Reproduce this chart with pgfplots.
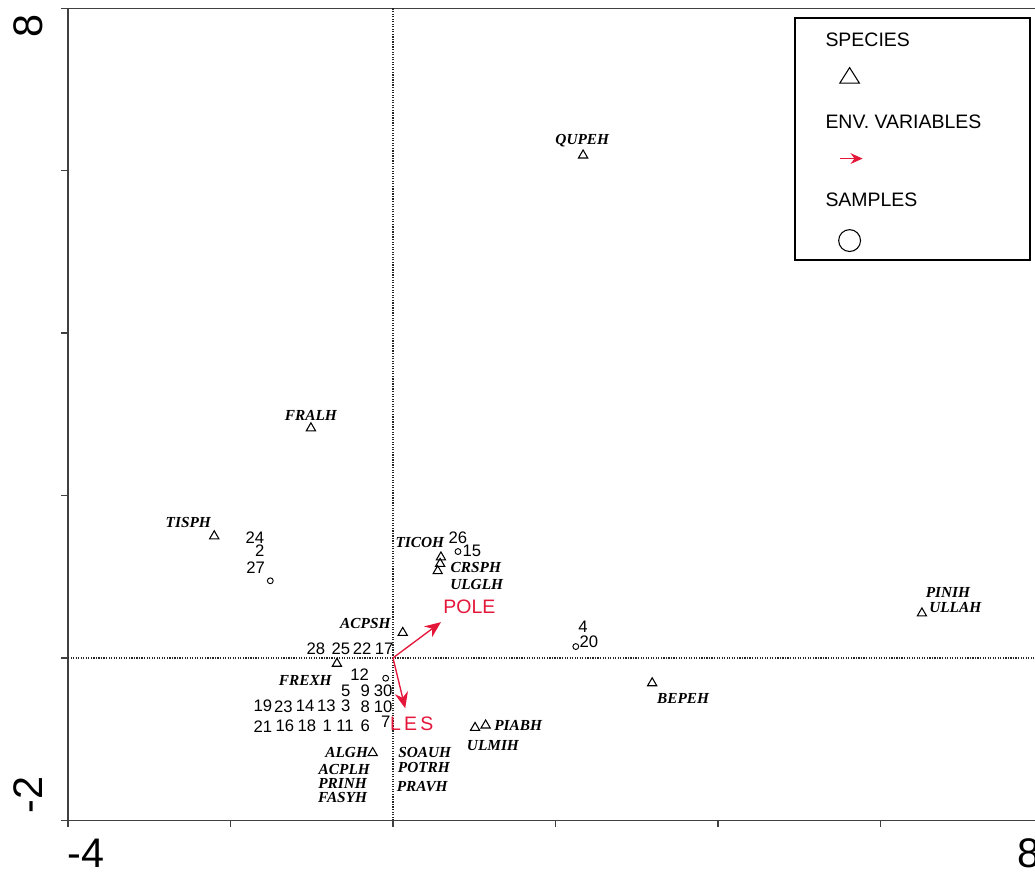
\documentclass[border=0pt]{standalone}
\usepackage{pgfplots}
\pgfplotsset{compat=1.18}
\usepackage{fontspec}
\setmainfont{Liberation Sans}
\newfontfamily\spfont{Liberation Serif}
\usetikzlibrary{arrows.meta}
\definecolor{envred}{RGB}{228,22,58}
\newcommand\spl{\spfont\fontsize{11.5}{12}\selectfont\bfseries\itshape}
\newcommand\nml{\fontsize{12.5}{13}\selectfont}
\newcommand\lgl{\fontsize{14.6}{15}\selectfont}
\newcommand\tkl{\fontsize{31}{31}\selectfont}
\begin{document}
\begin{tikzpicture}
\begin{axis}[scale only axis, width=731.25pt, height=609pt,
  xmin=-4, xmax=8, ymin=-2, ymax=8,
  xtick={-4,-2,...,8}, ytick={-2,0,...,8},
  xticklabels={}, yticklabels={},
  tick pos=left, tick align=outside, major tick length=5pt,
  axis line style={black!75, line width=1.2pt},
  tick style={black!75, line width=1pt},
  clip=false]
% reference lines
\draw[densely dotted, black!85, line width=0.9pt] (axis cs:0,-2) -- (axis cs:0,8);
\draw[densely dotted, black!85, line width=0.9pt] (axis cs:-4,0) -- (axis cs:8,0);
% species
\addplot[only marks, mark=triangle, mark size=4pt, mark options={black, line width=0.8pt}] coordinates {
(2.34,6.19) (-1.01,2.83) (-2.20,1.50) (0.59,1.24) (0.58,1.16) (0.55,1.07)
(0.12,0.31) (-0.69,-0.07) (3.19,-0.31) (6.51,0.55) (1.01,-0.86) (1.14,-0.83) (-0.25,-1.17)};
% samples
\addplot[only marks, mark=o, mark size=2.2pt, mark options={black, line width=0.7pt}] coordinates {
(-1.51,0.95) (0.80,1.31) (2.25,0.14) (-0.09,-0.25)};
% environmental arrows
\addplot[envred, line width=1pt, -{Stealth[length=12pt,width=10pt]}] coordinates {(0,0) (0.59,0.44)};
\addplot[envred, line width=1pt, -{Stealth[length=12pt,width=10pt]}] coordinates {(0,0) (0.15,-0.62)};
\node[font=\lgl, text=envred] at (axis cs:0.94,0.63) {POLE};
\node[font=\lgl, text=envred] at (axis cs:0.23,-0.81) {L\,E\,S};
% species labels
\node[font=\spl] at (axis cs:2.33,6.37) {QUPEH};
\node[font=\spl] at (axis cs:-1.01,2.99) {FRALH};
\node[font=\spl] at (axis cs:-2.52,1.67) {TISPH};
\node[font=\spl] at (axis cs:0.33,1.42) {TICOH};
\node[font=\spl] at (axis cs:1.02,1.11) {CRSPH};
\node[font=\spl] at (axis cs:1.03,0.91) {ULGLH};
\node[font=\spl] at (axis cs:-0.34,0.42) {ACPSH};
\node[font=\spl] at (axis cs:-1.08,-0.28) {FREXH};
\node[font=\spl] at (axis cs:3.57,-0.50) {BEPEH};
\node[font=\spl] at (axis cs:6.83,0.80) {PINIH};
\node[font=\spl] at (axis cs:6.92,0.62) {ULLAH};
\node[font=\spl] at (axis cs:1.54,-0.83) {PIABH};
\node[font=\spl] at (axis cs:1.23,-1.08) {ULMIH};
\node[font=\spl] at (axis cs:-0.57,-1.17) {ALGH};
\node[font=\spl] at (axis cs:-0.60,-1.37) {ACPLH};
\node[font=\spl] at (axis cs:-0.62,-1.55) {PRINH};
\node[font=\spl] at (axis cs:-0.62,-1.72) {FASYH};
\node[font=\spl] at (axis cs:0.39,-1.16) {SOAUH};
\node[font=\spl] at (axis cs:0.38,-1.35) {POTRH};
\node[font=\spl] at (axis cs:0.36,-1.58) {PRAVH};
% sample labels
\node[font=\nml] at (axis cs:-1.70,1.48) {24};
\node[font=\nml] at (axis cs:-1.64,1.32) {2};
\node[font=\nml] at (axis cs:-1.69,1.11) {27};
\node[font=\nml] at (axis cs:0.80,1.48) {26};
\node[font=\nml] at (axis cs:0.97,1.32) {15};
\node[font=\nml] at (axis cs:2.34,0.38) {4};
\node[font=\nml] at (axis cs:2.41,0.20) {20};
\node[font=\nml] at (axis cs:-0.95,0.11) {28};
\node[font=\nml] at (axis cs:-0.64,0.11) {25};
\node[font=\nml] at (axis cs:-0.38,0.11) {22};
\node[font=\nml] at (axis cs:-0.11,0.11) {17};
\node[font=\nml] at (axis cs:-0.41,-0.21) {12};
\node[font=\nml] at (axis cs:-0.58,-0.41) {5};
\node[font=\nml] at (axis cs:-0.34,-0.41) {9};
\node[font=\nml] at (axis cs:-0.12,-0.41) {30};
\node[font=\nml] at (axis cs:-1.60,-0.59) {19};
\node[font=\nml] at (axis cs:-1.35,-0.60) {23};
\node[font=\nml] at (axis cs:-1.08,-0.59) {14};
\node[font=\nml] at (axis cs:-0.82,-0.59) {13};
\node[font=\nml] at (axis cs:-0.58,-0.59) {3};
\node[font=\nml] at (axis cs:-0.34,-0.60) {8};
\node[font=\nml] at (axis cs:-0.12,-0.60) {10};
\node[font=\nml] at (axis cs:-1.60,-0.85) {21};
\node[font=\nml] at (axis cs:-1.33,-0.84) {16};
\node[font=\nml] at (axis cs:-1.06,-0.84) {18};
\node[font=\nml] at (axis cs:-0.81,-0.84) {1};
\node[font=\nml] at (axis cs:-0.59,-0.84) {11};
\node[font=\nml] at (axis cs:-0.34,-0.84) {6};
\node[font=\nml] at (axis cs:-0.09,-0.79) {7};
% tick labels
\node[font=\tkl, inner sep=0pt] at (axis cs:-3.78,-2.40) {-4};
\node[font=\tkl, inner sep=0pt] at (axis cs:7.83,-2.40) {8};
\node[font=\tkl, inner sep=0pt, rotate=90] at (axis cs:-4.49,7.78) {8};
\node[font=\tkl, inner sep=0pt, rotate=90] at (axis cs:-4.49,-1.69) {-2};
% legend
\draw[black, line width=1.6pt, fill=white] (axis cs:4.95,7.88) rectangle (axis cs:7.84,4.90);
\node[font=\lgl, anchor=west, inner sep=0pt] at (axis cs:5.32,7.61) {SPECIES};
\node[font=\lgl, anchor=west, inner sep=0pt] at (axis cs:5.32,6.60) {ENV. VARIABLES};
\node[font=\lgl, anchor=west, inner sep=0pt] at (axis cs:5.32,5.64) {SAMPLES};
\draw[black, line width=0.8pt] (axis cs:5.50,7.08) -- (axis cs:5.74,7.08) -- (axis cs:5.62,7.27) -- cycle;
\draw[envred, line width=1.4pt, -{Stealth[length=9pt,width=8pt]}] (axis cs:5.50,6.15) -- (axis cs:5.78,6.15);
\draw[black, line width=0.8pt] (axis cs:5.62,5.14) circle (8.2pt);
% page extent
\coordinate (bbSW) at (axis cs:-4.837,-2.660);
\coordinate (bbNE) at (axis cs:7.902,8.103);
\end{axis}
\pgfresetboundingbox
\path[use as bounding box] (bbSW) rectangle (bbNE);
\end{tikzpicture}
\end{document}
